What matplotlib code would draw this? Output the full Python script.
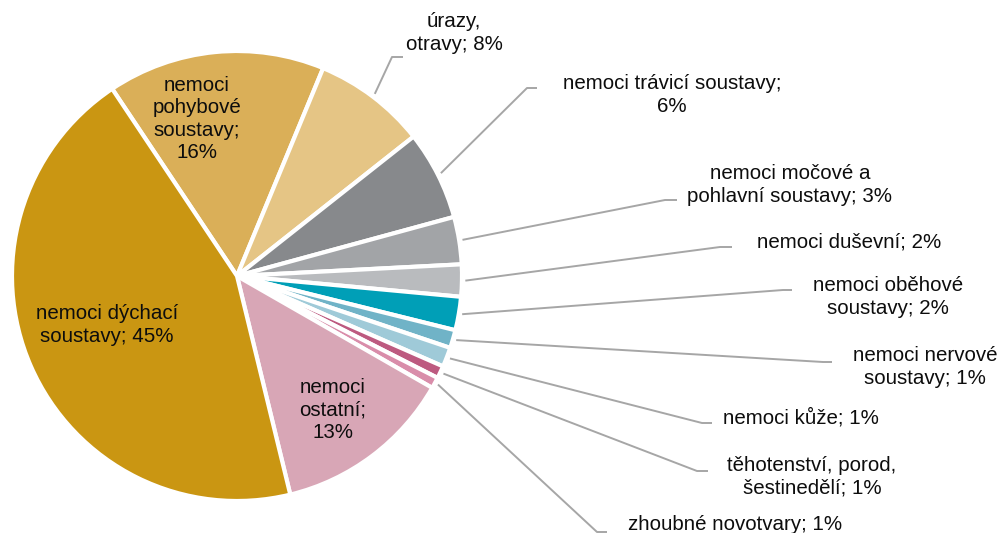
import numpy as np
import matplotlib
matplotlib.use("Agg")
import matplotlib.pyplot as plt

plt.rcParams['font.family'] = ['Liberation Sans', 'DejaVu Sans']

# slices clockwise from the upper-left boundary
names = ['nemoci pohybové soustavy', 'úrazy, otravy', 'nemoci trávicí soustavy',
         'nemoci močové a pohlavní soustavy', 'nemoci duševní', 'nemoci oběhové soustavy',
         'nemoci nervové soustavy', 'nemoci kůže', 'těhotenství, porod, šestinedělí',
         'zhoubné novotvary', 'nemoci ostatní', 'nemoci dýchací soustavy']
shares = [15.6, 8.1, 6.4, 3.4, 2.3, 2.4, 1.3, 1.4, 0.9, 0.8, 12.9, 44.4]
labels = ['nemoci\npohybové\nsoustavy;\n16%', 'úrazy,\notravy; 8%',
          'nemoci trávicí soustavy;\n6%', 'nemoci močové a\npohlavní soustavy; 3%',
          'nemoci duševní; 2%', 'nemoci oběhové\nsoustavy; 2%',
          'nemoci nervové\nsoustavy; 1%', 'nemoci kůže; 1%',
          'těhotenství, porod,\nšestinedělí; 1%', 'zhoubné novotvary; 1%',
          'nemoci\nostatní;\n13%', 'nemoci dýchací\nsoustavy; 45%']
colors = ['#DAAF58', '#E5C585', '#87898C', '#A2A4A7', '#B9BBBE', '#009FB7',
          '#70B3C7', '#9FCAD8', '#BD5A80', '#D98DAA', '#D8A6B6', '#CA9612']

W, H = 1006, 533
fig = plt.figure(figsize=(W / 100, H / 100), dpi=100)
ax = fig.add_axes([0, 0, 1, 1])

cx, cy, R = 237, H - 276, 225
wedges, _ = ax.pie(shares, colors=colors, startangle=90 + 33.7, counterclock=False,
                   center=(cx, cy), radius=R, frame=True,
                   wedgeprops=dict(edgecolor='white', linewidth=3))
ax.set_xlim(0, W)
ax.set_ylim(0, H)
ax.set_aspect('equal')
ax.axis('off')

# label layout in image pixels (x, y from top); inside labels have no leader
inside = {0: (197, 119), 10: (333, 410), 11: (107, 325)}
outside = {  # elbow point, end of leader, text centre
    1: ((392, 57), (403, 57), (454, 33)),
    2: ((527, 88), (537, 88), (672, 95)),
    3: ((665, 200), (677, 200), (790, 185)),
    4: ((720, 247), (732, 247), (849, 242)),
    5: ((783, 290), (792, 290), (888, 297)),
    6: ((823, 362), (832, 362), (925, 367)),
    7: ((702, 423), (712, 423), (801, 418)),
    8: ((697, 471), (708, 471), (812, 477)),
    9: ((597, 532), (607, 532), (735, 525)),
}

fs = 14.8
for i, w in enumerate(wedges):
    if i in inside:
        x, y = inside[i]
        ax.text(x, H - y, labels[i], ha='center', va='center', fontsize=fs,
                color='#0D0D0D', linespacing=1.22)
        continue
    elbow, end, txt = outside[i]
    mid = np.deg2rad((w.theta1 + w.theta2) / 2)
    sx, sy = cx + R * 1.015 * np.cos(mid), cy + R * 1.015 * np.sin(mid)
    ax.plot([sx, elbow[0], end[0]], [sy, H - elbow[1], H - end[1]],
            color='#A6A6A6', lw=1.4, solid_capstyle='butt')
    ax.text(txt[0], H - txt[1], labels[i], ha='center', va='center', fontsize=fs,
            color='#0D0D0D', linespacing=1.22)

fig.savefig('out.png', dpi=100)
